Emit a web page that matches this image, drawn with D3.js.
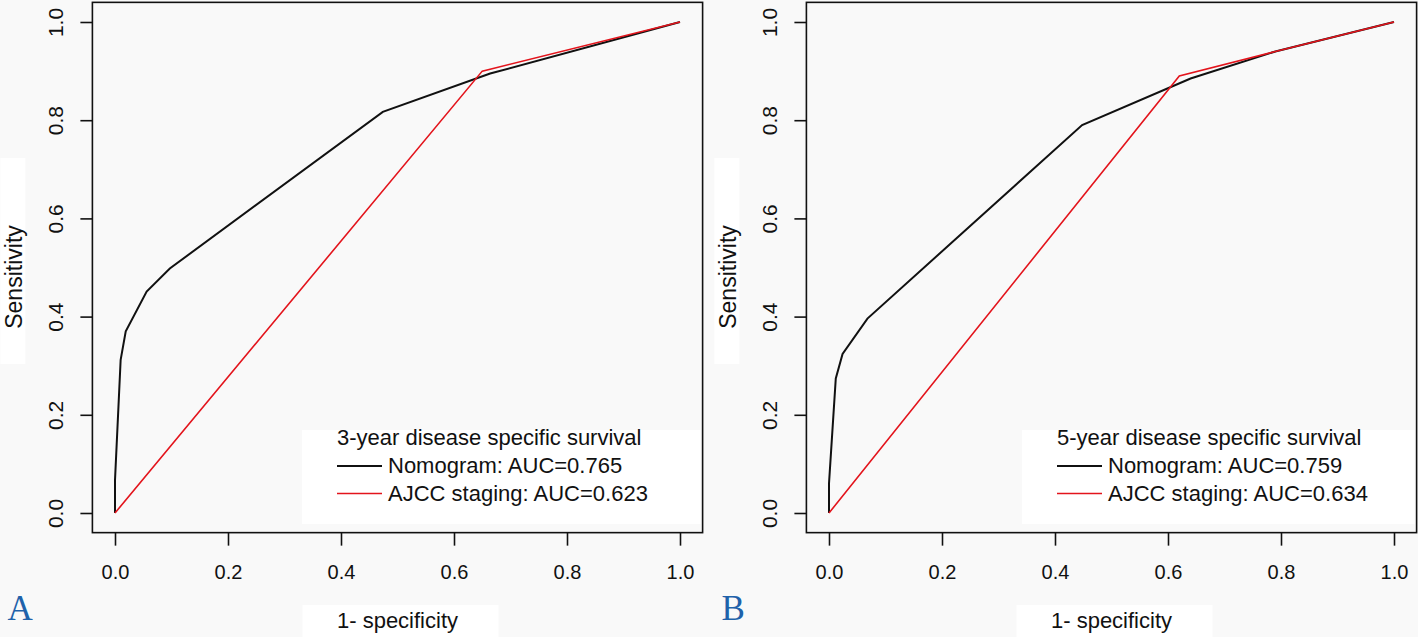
<!DOCTYPE html>
<html>
<head>
<meta charset="utf-8">
<script src="https://cdn.jsdelivr.net/npm/d3@7"></script>
<style>
  body { margin: 0; background: #f9f9f9; }
  text { font-family: "Liberation Sans", Arial, sans-serif; fill: #111; }
</style>
</head>
<body>
<div id="chart"></div>
<script>
// tick values shared by both axes
var tickValues = [0, 0.2, 0.4, 0.6, 0.8, 1.0];

// panel A: 3-year
var nomoA_fpr = [0, 0, 0.010, 0.019, 0.056, 0.097, 0.474, 0.664, 1];
var nomoA_tpr = [0, 0.067, 0.312, 0.370, 0.451, 0.498, 0.817, 0.895, 1];
var ajccA_fpr = [0, 0.65, 1];
var ajccA_tpr = [0, 0.90, 1];

// panel B: 5-year
var nomoB_fpr = [0, 0, 0.012, 0.024, 0.068, 0.448, 0.64, 0.79, 1];
var nomoB_tpr = [0, 0.06, 0.274, 0.324, 0.396, 0.79, 0.885, 0.94, 1];
var ajccB_fpr = [0, 0.62, 0.79, 1];
var ajccB_tpr = [0, 0.89, 0.94, 1];

var panelLabels = ["A", "B"];
var legendTitles = ["3-year disease specific survival", "5-year disease specific survival"];
var nomoLabels = ["Nomogram: AUC=0.765", "Nomogram: AUC=0.759"];
var ajccLabels = ["AJCC staging: AUC=0.623", "AJCC staging: AUC=0.634"];

// svg container
var svgWidth = 1418;
var svgHeight = 637;

var svg = d3.select("#chart").append("svg")
    .attr("width", svgWidth)
    .attr("height", svgHeight);

// panel settings (pixel positions)
var panels = [
    { x0: 115, legendX: 337, nomo: [nomoA_fpr, nomoA_tpr], ajcc: [ajccA_fpr, ajccA_tpr] },
    { x0: 829, legendX: 1057, nomo: [nomoB_fpr, nomoB_tpr], ajcc: [ajccB_fpr, ajccB_tpr] }
];

var unitX = 565;   // px per 1.0 on x
var yTop = 22, yBottom = 513;

panels.forEach(function(p, i) {
    var xScale = d3.scaleLinear().domain([-0.04, 1.04])
        .range([p.x0 - 0.04 * unitX, p.x0 + 1.04 * unitX]);
    var yScale = d3.scaleLinear().domain([-0.04, 1.04])
        .range([yBottom + 0.04 * (yBottom - yTop), yTop - 0.04 * (yBottom - yTop)]);

    var g = svg.append("g");

    var left = xScale(-0.04), right = xScale(1.04);
    var top = yScale(1.04), bottom = yScale(-0.04);

    // white boxes behind axis titles
    g.append("rect").attr("x", left - 92).attr("y", 158)
        .attr("width", 25).attr("height", 206).attr("fill", "#fff");
    g.append("rect").attr("x", xScale(0.5) - 95).attr("y", 605)
        .attr("width", 196).attr("height", 32).attr("fill", "#fff");

    // curves
    var line = d3.line().x(d => xScale(d[0])).y(d => yScale(d[1]));

    var ajccPts = d3.zip(p.ajcc[0], p.ajcc[1]);
    var nomoPts = d3.zip(p.nomo[0], p.nomo[1]);

    g.append("path").datum(nomoPts)
        .attr("d", line)
        .attr("fill", "none")
        .attr("stroke", "#111")
        .attr("stroke-width", 2);

    g.append("path").datum(ajccPts)
        .attr("d", line)
        .attr("fill", "none")
        .attr("stroke", "#e3141c")
        .attr("stroke-width", 1.6);

    // legend
    var lx = p.legendX;
    g.append("rect").attr("x", lx - 35).attr("y", 430)
        .attr("width", right - 2 - (lx - 35)).attr("height", 94).attr("fill", "#fff");
    g.append("text").attr("x", lx).attr("y", 445)
        .attr("font-size", "22px").text(legendTitles[i]);
    g.append("line").attr("x1", lx).attr("x2", lx + 45)
        .attr("y1", 466).attr("y2", 466)
        .attr("stroke", "#111").attr("stroke-width", 2);
    g.append("text").attr("x", lx + 51).attr("y", 473)
        .attr("font-size", "22px").text(nomoLabels[i]);
    g.append("line").attr("x1", lx).attr("x2", lx + 45)
        .attr("y1", 493.5).attr("y2", 493.5)
        .attr("stroke", "#e3141c").attr("stroke-width", 1.6);
    g.append("text").attr("x", lx + 51).attr("y", 500.5)
        .attr("font-size", "22px").text(ajccLabels[i]);

    // plot box
    g.append("rect")
        .attr("x", left).attr("y", top)
        .attr("width", right - left).attr("height", bottom - top)
        .attr("fill", "none").attr("stroke", "#111").attr("stroke-width", 1.6);

    // x axis
    var xAxis = d3.axisBottom(xScale).tickValues(tickValues)
        .tickFormat(d3.format(".1f")).tickSize(13).tickSizeOuter(0).tickPadding(19);
    var xg = g.append("g").attr("transform", `translate(0, ${bottom})`).call(xAxis);
    xg.select(".domain").remove();
    xg.selectAll("line").attr("stroke", "#111").attr("stroke-width", 1.6);
    xg.selectAll("text").attr("font-size", "20px").attr("fill", "#111")
        .attr("font-family", "Liberation Sans, Arial, sans-serif");

    // y axis
    var yAxis = d3.axisLeft(yScale).tickValues(tickValues)
        .tickFormat(d3.format(".1f")).tickSize(12).tickSizeOuter(0);
    var yg = g.append("g").attr("transform", `translate(${left}, 0)`).call(yAxis);
    yg.select(".domain").remove();
    yg.selectAll("line").attr("stroke", "#111").attr("stroke-width", 1.6);
    yg.selectAll("text")
        .attr("transform", "rotate(-90)")
        .attr("x", 0).attr("y", -29).attr("dy", null)
        .attr("text-anchor", "middle")
        .attr("font-size", "21px").attr("fill", "#111")
        .attr("font-family", "Liberation Sans, Arial, sans-serif");

    // axis titles
    g.append("text")
        .attr("transform", `translate(${left - 70}, 277) rotate(-90)`)
        .attr("text-anchor", "middle")
        .attr("font-size", "23px")
        .text("Sensitivity");

    g.append("text")
        .attr("x", xScale(0.5)).attr("y", 628)
        .attr("text-anchor", "middle")
        .attr("font-size", "22px")
        .text("1- specificity");

    // panel letter
    g.append("text")
        .attr("x", left - 85).attr("y", 620)
        .style("font-family", "Liberation Serif, serif")
        .style("fill", "#1f62aa")
        .attr("font-size", "35px")
        .text(panelLabels[i]);
});
</script>
</body>
</html>
